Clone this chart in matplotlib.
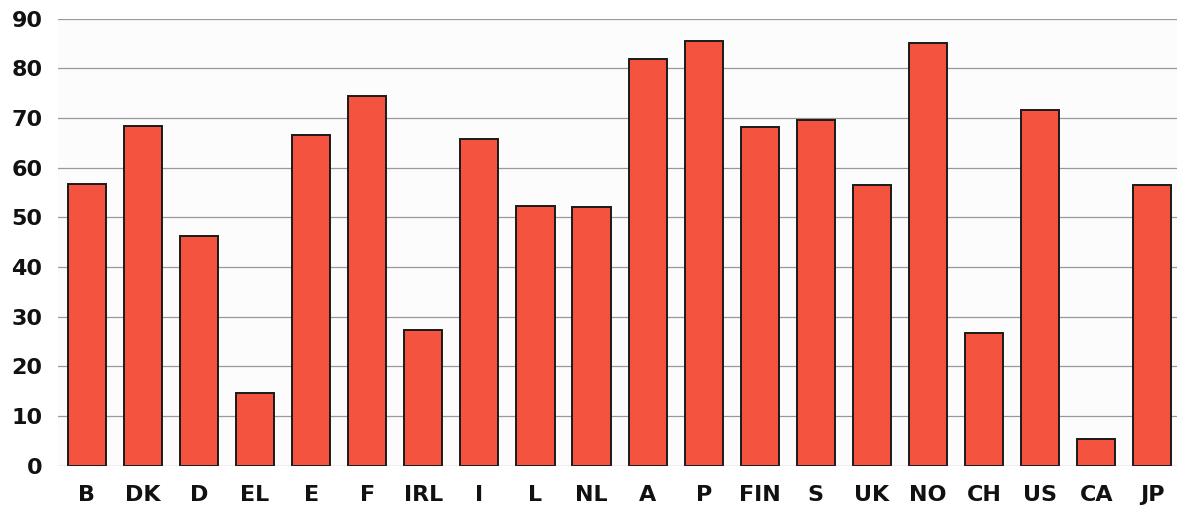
import matplotlib
matplotlib.use("Agg")
import matplotlib.pyplot as plt

# Values
countries = ['B', 'DK', 'D', 'EL', 'E', 'F', 'IRL', 'I', 'L', 'NL',
             'A', 'P', 'FIN', 'S', 'UK', 'NO', 'CH', 'US', 'CA', 'JP']
values = [56.8, 68.5, 46.3, 14.7, 66.6, 74.5, 27.4, 65.8, 52.4, 52.1,
          81.9, 85.6, 68.2, 69.6, 56.6, 85.2, 26.8, 71.7, 5.3, 56.6]
y_ticks = [0, 10, 20, 30, 40, 50, 60, 70, 80, 90]

plt.rcParams['font.family'] = ['DejaVu Sans']

fig = plt.figure(figsize=(11.77, 5.09), dpi=100)
fig.patch.set_facecolor('white')
ax = fig.add_axes([0.049, 0.085, 0.951, 0.878])
ax.set_facecolor('#fcfcfc')

ax.bar(range(len(countries)), values, width=0.68, color='#f4533f',
       edgecolor='#1a1a1a', linewidth=1.4, zorder=3)

ax.set_ylim(0, 90)
ax.set_xlim(-0.52, len(countries) - 0.56)
ax.set_yticks(y_ticks)
ax.set_xticks(range(len(countries)))
ax.set_xticklabels(countries)
ax.yaxis.grid(True, color='#999999', linewidth=0.9, zorder=0)

for side in ['top', 'right', 'left', 'bottom']:
    ax.spines[side].set_visible(False)
ax.tick_params(axis='both', length=0, labelsize=16, labelcolor='#111111')
ax.tick_params(axis='y', pad=11)
ax.tick_params(axis='x', pad=14)
for lbl in ax.get_xticklabels() + ax.get_yticklabels():
    lbl.set_fontweight('bold')

fig.savefig('out.png', dpi=100, facecolor='white')
